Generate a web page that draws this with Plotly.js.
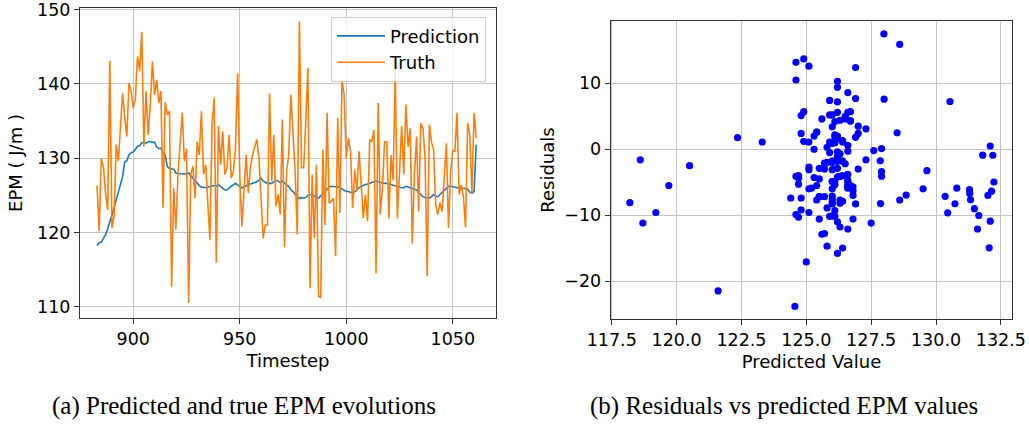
<!DOCTYPE html>
<html>
<head>
<meta charset="utf-8">
<script src="https://cdn.plot.ly/plotly-3.0.1.min.js"></script>
<style>
html, body { margin: 0; padding: 0; background: #ffffff; }
#chart { width: 1029px; height: 425px; }
</style>
</head>
<body>
<div id="chart"></div>
<script>
// ---- data ----
const timesteps = [
  883,884,885,886,887,888,889,890,891,892,
  893,894,895,896,897,898,899,900,901,902,
  903,904,905,906,907,908,909,910,911,912,
  913,914,915,916,917,918,919,920,921,922,
  923,924,925,926,927,928,929,930,931,932,
  933,934,935,936,937,938,939,940,941,942,
  943,944,945,946,947,948,949,950,951,952,
  953,954,955,956,957,958,959,960,961,962,
  963,964,965,966,967,968,969,970,971,972,
  973,974,975,976,977,978,979,980,981,982,
  983,984,985,986,987,988,989,990,991,992,
  993,994,995,996,997,998,999,1000,1001,1002,
  1003,1004,1005,1006,1007,1008,1009,1010,1011,1012,
  1013,1014,1015,1016,1017,1018,1019,1020,1021,1022,
  1023,1024,1025,1026,1027,1028,1029,1030,1031,1032,
  1033,1034,1035,1036,1037,1038,1039,1040,1041,1042,
  1043,1044,1045,1046,1047,1048,1049,1050,1051,1052,
  1053,1054,1055,1056,1057,1058,1059,1060,1061
];

const truth = [
  126.3,120.2,129.9,128.8,125.2,123.0,143.1,120.6,122.2,131.8,
  129.6,134.0,138.7,135.5,132.9,140.1,139.0,136.7,138.0,143.7,
  141.7,147.0,131.6,139.0,133.1,137.2,143.0,138.5,140.5,137.4,
  139.0,123.3,137.5,135.8,136.3,112.7,126.0,120.4,127.8,132.0,
  136.1,129.6,131.3,110.5,127.8,128.9,124.6,132.2,130.4,136.3,
  127.8,129.1,124.2,119.0,134.5,138.1,115.9,134.3,129.1,133.6,
  127.8,128.7,133.1,127.3,128.2,131.3,141.4,128.0,120.8,125.1,
  130.4,125.3,128.7,130.4,131.6,132.5,130.0,124.2,119.2,121.0,
  121.0,138.7,126.9,133.1,123.5,125.1,122.4,135.2,118.0,128.2,
  130.4,138.5,132.7,128.2,119.7,148.4,128.7,128.7,135.0,142.1,
  112.5,127.8,119.2,129.1,111.4,111.2,131.1,121.0,136.1,123.9,
  124.2,124.6,116.8,135.4,122.6,140.5,138.5,130.0,132.7,130.9,
  123.3,128.4,125.5,130.9,126.6,121.9,125.1,121.5,132.5,132.2,
  133.8,114.5,137.4,122.4,126.0,132.2,132.2,121.9,130.4,127.0,
  142.0,121.9,128.0,134.3,127.8,137.2,131.5,134.0,118.5,127.8,
  132.9,122.8,134.7,134.0,130.0,114.1,134.5,132.2,131.1,123.7,
  122.4,124.0,122.8,128.0,132.0,120.6,128.0,131.0,130.9,136.1,
  125.1,126.4,124.8,120.7,134.7,133.1,125.3,136.1,132.7
];

const prediction = [
  118.2,118.6,118.7,119.2,119.7,120.5,121.6,122.35,123.3,124.4,
  125.3,126.3,127.5,129.5,129.65,130.45,130.73,130.8,131.3,131.6,
  131.65,132.05,132.09,132.0,132.19,132.23,132.09,132.14,131.48,131.29,
  131.33,130.54,130.35,128.85,128.6,128.6,128.5,128.0,127.9,127.9,
  127.86,127.85,127.9,127.99,127.6,127.3,127.0,126.6,126.3,126.1,
  126.0,126.0,126.1,126.2,126.3,126.3,126.2,126.4,126.2,126.0,
  125.7,125.7,126.0,126.2,126.4,126.6,126.4,126.2,126.0,126.1,
  126.3,126.4,126.5,126.6,126.6,126.8,127.0,127.3,126.9,126.7,
  126.6,126.6,126.6,126.8,127.0,126.9,126.7,126.9,126.6,126.4,
  126.2,125.7,125.5,125.1,124.8,124.56,124.7,124.6,124.7,125.0,
  125.1,125.1,124.9,124.7,124.6,124.9,125.2,125.6,125.9,126.1,
  126.2,126.2,126.2,126.1,126.0,125.8,125.6,125.5,125.5,125.4,
  125.3,125.5,125.8,126.0,126.2,126.3,126.4,126.5,126.6,126.7,
  126.8,126.9,126.8,126.7,126.6,126.6,126.6,126.5,126.4,126.3,
  126.2,126.1,126.0,126.0,126.0,126.2,126.1,126.0,125.9,125.8,
  125.7,125.4,125.1,124.8,124.7,124.6,124.6,124.8,125.1,124.9,
  124.8,125.1,125.4,125.7,126.0,126.2,126.2,126.1,126.0,126.0,
  126.0,125.9,125.9,125.9,125.8,125.4,125.3,125.5,131.8
];

// residual = predicted - true (as plotted in panel b)
const residuals = prediction.map((p, i) => +(p - truth[i]).toFixed(2));

const seriesNames = ['Prediction', 'Truth'];
const xTitleA = 'Timestep';
const yTitleA = 'EPM ( J/m )';
const xTitleB = 'Predicted Value';
const yTitleB = 'Residuals';
const captionA = '(a) Predicted and true EPM evolutions';
const captionB = '(b) Residuals vs predicted EPM values';

// ---- figure ----
const W = 1029, H = 425;
const px = v => v / W;
const py = v => 1 - v / H;

const gridColor = '#c4c4c4';
const spineColor = '#333333';
const tickFont = { family: 'DejaVu Sans', size: 17.5, color: '#000000' };
const titleFont = { family: 'DejaVu Sans', size: 18, color: '#000000' };

const traces = [
  {
    x: timesteps, y: prediction, type: 'scatter', mode: 'lines',
    name: seriesNames[0], line: { color: '#1f77b4', width: 1.6 },
    xaxis: 'x', yaxis: 'y'
  },
  {
    x: timesteps, y: truth, type: 'scatter', mode: 'lines',
    name: seriesNames[1], line: { color: '#ff7f0e', width: 1.6 },
    xaxis: 'x', yaxis: 'y'
  },
  {
    x: prediction, y: residuals, type: 'scatter', mode: 'markers',
    name: 'Residuals', showlegend: false,
    marker: { color: '#0000ff', size: 7.2 },
    xaxis: 'x2', yaxis: 'y2'
  }
];

const baseAxis = {
  showgrid: true, gridcolor: gridColor, gridwidth: 1,
  showline: true, linecolor: spineColor, linewidth: 1, mirror: true,
  ticks: 'outside', ticklen: 5, tickwidth: 1, tickcolor: spineColor,
  tickfont: tickFont, zeroline: false, ticklabeloverflow: 'allow'
};

const layout = {
  width: W, height: H,
  margin: { l: 0, r: 0, t: 0, b: 0 },
  paper_bgcolor: '#ffffff', plot_bgcolor: '#ffffff',
  font: { family: 'DejaVu Sans', color: '#000000' },
  showlegend: true,
  legend: {
    x: px(486), y: py(16.7), xanchor: 'right', yanchor: 'top',
    bgcolor: 'rgba(255,255,255,0.8)', bordercolor: '#cccccc', borderwidth: 1,
    itemwidth: 48, tracegroupgap: 0,
    font: { family: 'DejaVu Sans', size: 18, color: '#000000' }
  },
  xaxis: Object.assign({}, baseAxis, {
    domain: [px(80), px(496)], range: [875.0, 1070.3],
    tick0: 900, dtick: 50, anchor: 'y',
    title: { text: xTitleA, font: titleFont, standoff: 6 }
  }),
  yaxis: Object.assign({}, baseAxis, {
    domain: [py(317.7), py(8.3)], range: [108.52, 150.15],
    tick0: 110, dtick: 10, anchor: 'x',
    title: { text: yTitleA, font: titleFont, standoff: 9 }
  }),
  xaxis2: Object.assign({}, baseAxis, {
    domain: [px(610.7), px(1012.3)], range: [117.46, 132.94],
    tick0: 117.5, dtick: 2.5, tickformat: '.1f', anchor: 'y2',
    title: { text: xTitleB, font: titleFont, standoff: 6 }
  }),
  yaxis2: Object.assign({}, baseAxis, {
    domain: [py(319.3), py(20.7)], range: [-25.8, 19.5],
    tick0: 0, dtick: 10, anchor: 'x2',
    title: { text: yTitleB, font: titleFont, standoff: 4 }
  }),
  annotations: [
    {
      text: captionA, xref: 'paper', yref: 'paper',
      x: px(244), y: py(406), xanchor: 'center', yanchor: 'middle',
      showarrow: false,
      font: { family: 'Liberation Serif', size: 25, color: '#000000' }
    },
    {
      text: captionB, xref: 'paper', yref: 'paper',
      x: px(784), y: py(406), xanchor: 'center', yanchor: 'middle',
      showarrow: false,
      font: { family: 'Liberation Serif', size: 25, color: '#000000' }
    }
  ]
};

Plotly.newPlot('chart', traces, layout, { displayModeBar: false, staticPlot: true });
</script>
</body>
</html>
